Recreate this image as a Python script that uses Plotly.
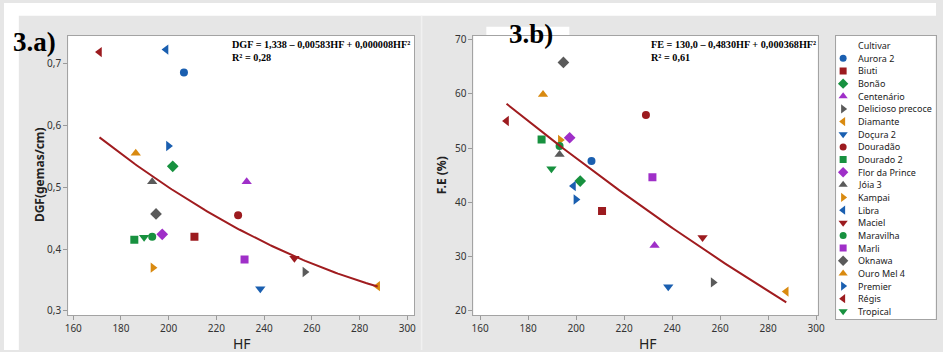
import numpy as np
import plotly.graph_objects as go

# Cultivars and their measurements
cultivars = ["Aurora 2", "Biuti", "Bonão", "Centenário", "Delicioso precoce", "Diamante",
             "Doçura 2", "Douradão", "Dourado 2", "Flor da Prince", "Jóia 3", "Kampai",
             "Libra", "Maciel", "Maravilha", "Marli", "Oknawa", "Ouro Mel 4", "Premier",
             "Régis", "Tropical"]
hf = [206.4, 210.8, 201.7, 232.7, 257.1, 287.6, 238.4, 229.1, 185.6, 197.3, 193.1, 193.4,
      198.9, 252.7, 193.1, 231.8, 194.7, 186.2, 199.9, 171.0, 189.7]
dgf = [0.686, 0.420, 0.534, 0.509, 0.363, 0.340, 0.336, 0.455, 0.415, 0.424, 0.509, 0.370,
       0.723, 0.385, 0.420, 0.383, 0.457, 0.555, 0.567, 0.719, 0.419]
fe = [47.6, 38.4, 43.9, 32.0, 25.2, 23.5, 24.4, 56.1, 51.6, 51.9, 48.8, 51.5,
      43.0, 33.5, 50.4, 44.6, 65.8, 59.9, 40.5, 55.0, 46.2]

# Quadratic regression coefficients (a + b*HF + c*HF^2) and R²
dgf_coef = [1.338, -0.00583, 0.0000082]
dgf_dec = [3, 5, 6]
dgf_r2 = 0.28
fe_coef = [130.0, -0.4830, 0.000368]
fe_dec = [1, 4, 6]
fe_r2 = 0.61

x_ticks = [160, 180, 200, 220, 240, 260, 280, 300]
dgf_ticks = [0.3, 0.4, 0.5, 0.6, 0.7]
fe_ticks = [20, 30, 40, 50, 60, 70]

# Style cycles (colour cycles every 6, symbol every 7)
palette = ["#1a5fb0", "#9c1b1f", "#17913f", "#9f2fc8", "#5a5a5a", "#d98a10"]
symbols = ["circle", "square", "diamond", "triangle-up", "triangle-right",
           "triangle-left", "triangle-down"]

W, H = 943, 352
BG = "#e6e6e6"
FIT = "#a01c1f"
SANS = "Noto Sans, Roboto, sans-serif"
SERIF = "Liberation Serif, Times New Roman, serif"


def fx(px):
    return px / W


def fy(py):
    return 1 - py / H


def num(v, d):
    return f"{abs(v):.{d}f}".replace(".", ",")


def equation(name, coef, dec, r2):
    a, b, c = coef
    sb = "–" if b < 0 else "+"
    sc = "–" if c < 0 else "+"
    return (f"{name} = {num(a, dec[0])} {sb} {num(b, dec[1])}HF {sc} {num(c, dec[2])}HF²"
            f"<br>R² = {num(r2, 2)}")


fig = go.Figure()

for i, name in enumerate(cultivars):
    color = palette[i % len(palette)]
    sym = symbols[i % len(symbols)]
    size = 8 if sym in ("circle", "square") else 9
    mk = dict(color=color, symbol=sym, size=size, line=dict(width=0))
    fig.add_trace(go.Scatter(x=[hf[i]], y=[dgf[i]], mode="markers", marker=mk,
                             name=name, showlegend=False, xaxis="x", yaxis="y"))
    fig.add_trace(go.Scatter(x=[hf[i]], y=[fe[i]], mode="markers", marker=mk,
                             name=name, showlegend=False, xaxis="x2", yaxis="y2"))
    # key entry in the side panel
    key_mk = dict(mk, size=size - 1)
    fig.add_trace(go.Scatter(x=[0.07], y=[i + 1], mode="markers", marker=key_mk,
                             name=name, showlegend=False, xaxis="x3", yaxis="y3",
                             hoverinfo="skip"))

# Fitted curves over the observed HF range
grid = np.linspace(min(hf), max(hf), 120)
for coef, xa, ya in ((dgf_coef, "x", "y"), (fe_coef, "x2", "y2")):
    fig.add_trace(go.Scatter(x=grid, y=coef[0] + coef[1] * grid + coef[2] * grid ** 2,
                             mode="lines", line=dict(color=FIT, width=2),
                             showlegend=False, xaxis=xa, yaxis=ya, hoverinfo="skip"))

axis_common = dict(showgrid=False, zeroline=False, showline=True, mirror=True,
                   linecolor="#a3a3a3", linewidth=1, ticks="outside", ticklen=4,
                   tickcolor="#9a9a9a", tickfont=dict(family=SANS, size=10, color="#333333"))

fig.update_layout(
    width=W, height=H,
    margin=dict(l=0, r=0, t=0, b=0),
    paper_bgcolor=BG, plot_bgcolor="white",
    separators=",.",
    showlegend=False,
    xaxis=dict(domain=[fx(65), fx(415)], range=[157.9, 302.9], tickvals=x_ticks,
               anchor="y", **axis_common),
    yaxis=dict(domain=[fy(317), fy(33)], range=[0.2925, 0.7458], tickvals=dgf_ticks,
               tickformat=".1f", anchor="x", **axis_common),
    xaxis2=dict(domain=[fx(475), fx(823.3)], range=[157.2, 300.7], tickvals=x_ticks,
                anchor="y2", **axis_common),
    yaxis2=dict(domain=[fy(317), fy(33)], range=[19.09, 70.77], tickvals=fe_ticks,
                anchor="x2", **axis_common),
    xaxis3=dict(domain=[fx(842), fx(942.5)], range=[0, 1], showgrid=False, zeroline=False,
                showticklabels=False, showline=True, mirror=True, linecolor="#a3a3a3",
                anchor="y3", fixedrange=True),
    yaxis3=dict(domain=[fy(321), fy(33)], range=[21.64, -0.803], showgrid=False,
                zeroline=False, showticklabels=False, showline=True, mirror=True,
                linecolor="#a3a3a3", anchor="x3", fixedrange=True),
)

shapes = [
    dict(type="rect", xref="paper", yref="paper", x0=0, x1=fx(15), y0=0, y1=1,
         fillcolor="white", line=dict(width=0), layer="below"),
    dict(type="rect", xref="paper", yref="paper", x0=0, x1=1, y0=fy(13), y1=1,
         fillcolor="white", line=dict(width=0), layer="below"),
    dict(type="line", xref="paper", yref="paper", x0=fx(422.5), x1=fx(422.5),
         y0=0, y1=fy(13), line=dict(color="#f1f1f1", width=1.5), layer="below"),
    dict(type="rect", xref="paper", yref="paper", x0=fx(488), x1=fx(572),
         y0=fy(33), y1=fy(24), fillcolor="white", line=dict(width=0), layer="below"),
]
fig.update_layout(shapes=shapes)

ann = []
# panel labels
ann.append(dict(text="3.a)", x=fx(7), y=fy(40), xref="paper", yref="paper",
                xanchor="left", yanchor="middle", showarrow=False,
                font=dict(family=SERIF, size=27, color="black", weight="bold")))
ann.append(dict(text="3.b)", x=fx(509), y=fy(31), xref="paper", yref="paper",
                xanchor="left", yanchor="middle", showarrow=False,
                font=dict(family=SERIF, size=27, color="black", weight="bold")))
# regression equations
ann.append(dict(text=equation("DGF", dgf_coef, dgf_dec, dgf_r2), x=fx(229), y=fy(34),
                xref="paper", yref="paper", xanchor="left", yanchor="top", align="left",
                showarrow=False,
                font=dict(family=SERIF, size=10.2, color="black", weight="bold")))
ann.append(dict(text=equation("FE", fe_coef, fe_dec, fe_r2), x=fx(653), y=fy(34),
                xref="paper", yref="paper", xanchor="left", yanchor="top", align="left",
                showarrow=False,
                font=dict(family=SERIF, size=10.2, color="black", weight="bold")))
# axis titles
ann.append(dict(text="DGF(gemas/cm)", x=fx(36), y=fy(174), xref="paper", yref="paper",
                textangle=-90, showarrow=False, xanchor="center", yanchor="middle",
                font=dict(family=SANS, size=12, color="#222222", weight="bold")))
ann.append(dict(text="F.E (%)", x=fx(443), y=fy(175), xref="paper", yref="paper",
                textangle=-90, showarrow=False, xanchor="center", yanchor="middle",
                font=dict(family=SANS, size=12, color="#222222", weight="bold")))
for cx in (240.5, 651.5):
    ann.append(dict(text="HF", x=fx(cx), y=fy(345), xref="paper", yref="paper",
                    showarrow=False, xanchor="center", yanchor="middle",
                    font=dict(family=SANS, size=14, color="#222222")))
# key labels
key_font = dict(family=SANS, size=9, color="#222222")
ann.append(dict(text="Cultivar", x=0.2, y=0, xref="x3", yref="y3", xanchor="left",
                yanchor="middle", showarrow=False, font=key_font))
for i, name in enumerate(cultivars):
    ann.append(dict(text=name, x=0.2, y=i + 1, xref="x3", yref="y3", xanchor="left",
                    yanchor="middle", showarrow=False, font=key_font))
fig.update_layout(annotations=ann)

fig.write_html("out.html")
